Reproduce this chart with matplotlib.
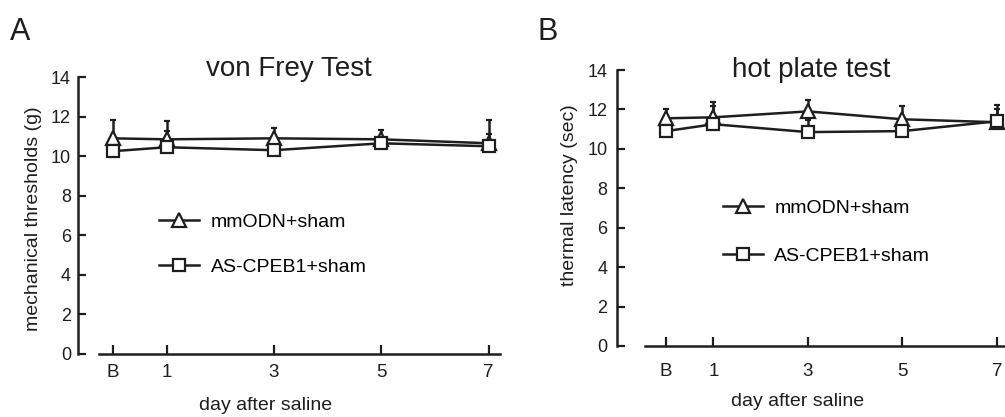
import numpy as np
import matplotlib
matplotlib.use('Agg')
import matplotlib.pyplot as plt

plt.rcParams['font.family'] = ['Liberation Sans', 'DejaVu Sans']

# data
days = [0, 1, 3, 5, 7]
day_labels = ['B', '1', '3', '5', '7']
groups = ['mmODN+sham', 'AS-CPEB1+sham']

vf_mm = [10.9, 10.85, 10.9, 10.85, 10.65]
vf_mm_err = [0.95, 0.95, 0.5, 0.45, 1.2]
vf_as = [10.25, 10.45, 10.3, 10.65, 10.5]
vf_as_err = [0.4, 0.8, 0.5, 0.3, 0.6]

hp_mm = [11.55, 11.6, 11.9, 11.5, 11.35]
hp_mm_err = [0.45, 0.8, 0.6, 0.65, 0.9]
hp_as = [10.9, 11.25, 10.85, 10.9, 11.4]
hp_as_err = [0.5, 0.9, 0.6, 0.7, 0.6]

W, H = 1005, 417
col = '#1e1e1e'

fig = plt.figure(figsize=(W / 100, H / 100), dpi=100)


def px_axes(x0, x1, ytop, ybot):
    return fig.add_axes([x0 / W, (H - ybot) / H, (x1 - x0) / W, (ybot - ytop) / H])


def draw_panel(ax, mm, mm_err, asv, as_err, xlim, xstart, title, title_y,
               ylabel, ylab_xy, xlab_xy, leg_xy, leg_sp, xpad, ypad):
    ax.set_xlim(*xlim)
    ax.set_ylim(0, 14)
    for vals, err, mk, ms, lab in [(mm, mm_err, '^', 9.5, groups[0]),
                                   (asv, as_err, 's', 8.5, groups[1])]:
        ax.errorbar(days, vals, yerr=[np.zeros(len(err)), err], color=col,
                    lw=1.8, elinewidth=1.8, capsize=2.5, capthick=1.8,
                    marker=mk, ms=ms, mfc='white', mec=col, mew=1.6,
                    label=lab, clip_on=False)
    for s in ['top', 'right']:
        ax.spines[s].set_visible(False)
    ax.spines['left'].set_bounds(0, 14)
    ax.spines['bottom'].set_bounds(xstart, xlim[1])
    for s in ['left', 'bottom']:
        ax.spines[s].set_linewidth(1.8)
        ax.spines[s].set_color(col)
    ax.set_yticks(np.arange(0, 15, 2))
    ax.set_xticks(days)
    ax.set_xticklabels(day_labels)
    ax.tick_params(axis='y', direction='in', length=6, width=1.6,
                   labelsize=13, pad=ypad, colors=col)
    ax.tick_params(axis='x', direction='in', length=6.5, width=1.6,
                   labelsize=13.5, pad=xpad, colors=col)
    ax.set_title(title, fontsize=20, y=title_y, pad=0, color=col)
    ax.set_ylabel(ylabel, fontsize=14, color=col)
    ax.yaxis.set_label_coords(*ylab_xy)
    ax.set_xlabel('day after saline', fontsize=14, color=col)
    ax.xaxis.set_label_coords(*xlab_xy)
    h, l = ax.get_legend_handles_labels()
    h = [hh[0] for hh in h]
    ax.legend(h, l, loc='center left', bbox_to_anchor=leg_xy, frameon=False,
              fontsize=14, handlelength=2.05, handletextpad=0.6,
              labelspacing=leg_sp, borderpad=0, borderaxespad=0)


axA = px_axes(78, 500, 77, 354)
draw_panel(axA, vf_mm, vf_mm_err, vf_as, vf_as_err,
           xlim=(-0.65, 7.21), xstart=-0.26, title='von Frey Test', title_y=1.004,
           ylabel='mechanical thresholds (g)', ylab_xy=(-0.085, 0.49),
           xlab_xy=(0.445, -0.155), leg_xy=(0.192, 0.395), leg_sp=1.38,
           xpad=7, ypad=5)

axB = px_axes(617, 1005, 70, 346)
draw_panel(axB, hp_mm, hp_mm_err, hp_as, hp_as_err,
           xlim=(-1.04, 7.17), xstart=-0.44, title='hot plate test', title_y=0.975,
           ylabel='thermal latency (sec)', ylab_xy=(-0.10, 0.547),
           xlab_xy=(0.466, -0.17), leg_xy=(0.273, 0.412), leg_sp=1.55,
           xpad=12.5, ypad=7)

fig.text(10 / W, 1 - 40 / H, 'A', fontsize=22, color=col)
fig.text(537 / W, 1 - 40 / H, 'B', fontsize=22, color=col)

fig.savefig('out.png', dpi=100)
